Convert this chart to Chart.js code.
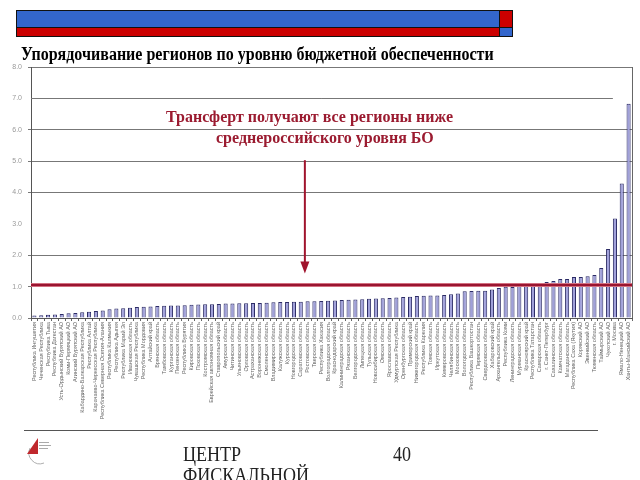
<!DOCTYPE html>
<html>
<head>
<meta charset="utf-8">
<script src="https://cdn.jsdelivr.net/npm/chart.js@4"></script>
<style>
  html, body { margin: 0; padding: 0; width: 640px; height: 480px; overflow: hidden; background: #fff; }
  #wrap { position: relative; width: 640px; height: 480px; }
  canvas { position: absolute; left: 0; top: 0; }
  .abs { position: absolute; }
  #title { left: 21px; top: 44px; font: bold 18px/20px "Liberation Serif", serif; color: #000; white-space: nowrap;
           transform: scaleX(0.89); transform-origin: 0 0; }
  .note { font: bold 16px/18px "Liberation Serif", serif; color: #9b1b30; white-space: nowrap; }
  .foot { font: 22px/22px "Liberation Serif", serif; color: #222; white-space: nowrap;
          transform: scaleX(0.82); transform-origin: 0 0; }
</style>
</head>
<body>
<div id="wrap">
  <canvas id="c" width="640" height="480"></canvas>
  <!-- banner -->
  <div class="abs" style="left:16px;top:10px;width:483px;height:16px;background:#3366cc;border:1px solid #111;"></div>
  <div class="abs" style="left:16px;top:27px;width:483px;height:8px;background:#cc0000;border:1px solid #111;"></div>
  <div class="abs" style="left:499px;top:10px;width:12px;height:16px;background:#cc0000;border:1px solid #111;"></div>
  <div class="abs" style="left:499px;top:27px;width:12px;height:8px;background:#3366cc;border:1px solid #111;"></div>
  <div id="title" class="abs">Упорядочивание регионов по уровню бюджетной обеспеченности</div>
  <div class="abs note" style="left:166px;top:108px;">Трансферт получают все регионы ниже</div>
  <div class="abs note" style="left:216px;top:129px;">среднероссийского уровня БО</div>
  <!-- footer -->
  <div class="abs" style="left:24px;top:430px;width:574px;height:0;border-top:1.5px solid #555;"></div>
  <svg class="abs" style="left:24px;top:436px;" width="32" height="30" viewBox="0 0 32 30">
    <path d="M6 12 A11 11 0 0 0 20 27" fill="none" stroke="#999" stroke-width="0.8"/>
    <polygon points="3,18 14,2 14,18" fill="#c0282d"/>
    <rect x="15" y="6" width="10" height="1" fill="#aaa"/>
    <rect x="15" y="9" width="12" height="1" fill="#aaa"/>
    <rect x="15" y="12" width="9" height="1" fill="#aaa"/>
  </svg>
  <div class="abs foot" style="left:183px;top:443px;">ЦЕНТР</div>
  <div class="abs foot" style="left:183px;top:464px;">ФИСКАЛЬНОЙ</div>
  <div class="abs foot" style="left:393px;top:443px;">40</div>
</div>
<script>
const regions = [
  "Республика Ингушетия","Чеченская Республика","Республика Тыва","Республика Дагестан",
  "Усть-Ордынский Бурятский АО","Коми-Пермяцкий АО","Агинский Бурятский АО","Кабардино-Балкарская Республика",
  "Республика Алтай","Карачаево-Черкесская Республика","Республика Северная Осетия-Алания","Республика Калмыкия",
  "Республика Адыгея","Республика Марий Эл","Ивановская область","Чувашская Республика",
  "Республика Мордовия","Алтайский край","Брянская область","Тамбовская область",
  "Курганская область","Пензенская область","Республика Бурятия","Кировская область",
  "Псковская область","Костромская область","Еврейская автономная область","Ставропольский край",
  "Амурская область","Читинская область","Ульяновская область","Орловская область",
  "Астраханская область","Воронежская область","Смоленская область","Владимирская область",
  "Калужская область","Курская область","Новгородская область","Саратовская область",
  "Ростовская область","Тверская область","Республика Хакасия","Волгоградская область",
  "Краснодарский край","Калининградская область","Рязанская область","Белгородская область",
  "Липецкая область","Тульская область","Новосибирская область","Омская область",
  "Ярославская область","Удмуртская Республика","Оренбургская область","Приморский край",
  "Нижегородская область","Республика Карелия","Томская область","Иркутская область",
  "Кемеровская область","Челябинская область","Московская область","Вологодская область",
  "Республика Башкортостан","Пермская область","Свердловская область","Хабаровский край",
  "Архангельская область","Республика Коми","Ленинградская область","Мурманская область",
  "Красноярский край","Республика Татарстан","Самарская область","г. Санкт-Петербург",
  "Сахалинская область","Камчатская область","Магаданская область","Республика Саха (Якутия)",
  "Корякский АО","Эвенкийский АО","Тюменская область","Таймырский АО",
  "Чукотский АО","г. Москва","Ямало-Ненецкий АО","Ханты-Мансийский АО"
];
const budgetSufficiency = [
  0.08,0.09,0.10,0.11,0.13,0.15,0.16,0.18,0.20,0.22,0.24,0.28,0.30,0.31,0.33,0.35,0.36,0.37,0.38,0.39,0.40,0.40,
  0.41,0.42,0.43,0.44,0.44,0.45,0.46,0.46,0.47,0.47,0.48,0.48,0.49,0.50,0.51,0.51,0.52,0.52,0.53,0.53,0.54,
  0.55,0.56,0.57,0.58,0.59,0.60,0.61,0.62,0.63,0.64,0.65,0.67,
  0.68,0.70,0.71,0.72,0.72,0.73,0.76,0.78,0.85,0.86,0.87,0.87,0.91,0.96,1.00,0.99,1.02,1.02,1.05,1.08,
  1.15,1.18,1.24,1.24,1.31,1.31,1.33,1.37,1.59,2.20,3.17,4.29,6.83
];
const yTicks = [0,1,2,3,4,5,6,7,8];
const averageLevel = 1.05;
const arrowIndex = 39.6;
const arrowFrom = 5.03;
const arrowTo = 1.42;

const overlay = {
  id: 'overlay',
  afterDatasetsDraw(chart) {
    const {ctx, chartArea: a, scales: {x, y}} = chart;
    ctx.save();
    const y7 = Math.round(y.getPixelForValue(7)) + 0.5;
    ctx.strokeStyle = '#777'; ctx.lineWidth = 1;
    ctx.beginPath(); ctx.moveTo(a.left, y7); ctx.lineTo(x.getPixelForValue(84.7), y7); ctx.stroke();
    ctx.strokeStyle = '#666';
    ctx.beginPath(); ctx.moveTo(a.right + 0.5, a.top); ctx.lineTo(a.right + 0.5, a.bottom); ctx.stroke();
    const ya = y.getPixelForValue(averageLevel);
    ctx.strokeStyle = '#d27080'; ctx.lineWidth = 4;
    ctx.beginPath(); ctx.moveTo(a.left, ya); ctx.lineTo(a.right, ya); ctx.stroke();
    ctx.strokeStyle = '#9a1430'; ctx.lineWidth = 2;
    ctx.beginPath(); ctx.moveTo(a.left, ya); ctx.lineTo(a.right, ya); ctx.stroke();
    const ax = x.getPixelForValue(arrowIndex);
    const y1 = y.getPixelForValue(arrowFrom), y2 = y.getPixelForValue(arrowTo);
    ctx.strokeStyle = '#a0142d'; ctx.fillStyle = '#a0142d'; ctx.lineWidth = 2;
    ctx.beginPath(); ctx.moveTo(ax, y1); ctx.lineTo(ax, y2 - 10); ctx.stroke();
    ctx.beginPath(); ctx.moveTo(ax - 4.5, y2 - 12); ctx.lineTo(ax + 4.5, y2 - 12); ctx.lineTo(ax, y2); ctx.closePath(); ctx.fill();
    ctx.restore();
  }
};

new Chart(document.getElementById('c'), {
  type: 'bar',
  data: {
    labels: regions,
    datasets: [{
      data: budgetSufficiency,
      backgroundColor: '#a0a0da',
      borderColor: '#2c2c66',
      borderWidth: {left: 1, top: 1, right: 1, bottom: 0},
      borderSkipped: false,
      barPercentage: 0.6,
      categoryPercentage: 1.0
    }]
  },
  options: {
    responsive: false,
    animation: false,
    devicePixelRatio: 1,
    layout: {padding: {top: 67, right: 8, bottom: 50, left: 0}},
    plugins: {legend: {display: false}, tooltip: {enabled: false}, title: {display: false}},
    scales: {
      x: {
        offset: true,
        grid: {display: true, drawOnChartArea: false, tickLength: 3, color: '#666'},
        border: {color: '#555', width: 1},
        ticks: {autoSkip: false, minRotation: 90, maxRotation: 90, padding: 1, color: '#666',
                font: {size: 5.5, family: 'Liberation Sans'}},
        afterFit: s => { s.height = 112; }
      },
      y: {
        min: 0, max: 8,
        afterBuildTicks: s => { s.ticks = yTicks.map(v => ({value: v})); },
        ticks: {color: '#999', font: {size: 7, family: 'Liberation Sans'}, padding: 6,
                callback: v => Number(v).toFixed(1)},
        grid: {
          color: c => (c.tick && (c.tick.value === 3 || c.tick.value === 7)) ? 'rgba(0,0,0,0)' : '#777',
          lineWidth: 1, tickLength: 3
        },
        border: {color: '#555', width: 1},
        afterFit: s => { s.width = 31; }
      }
    }
  },
  plugins: [overlay]
});
</script>
</body>
</html>
